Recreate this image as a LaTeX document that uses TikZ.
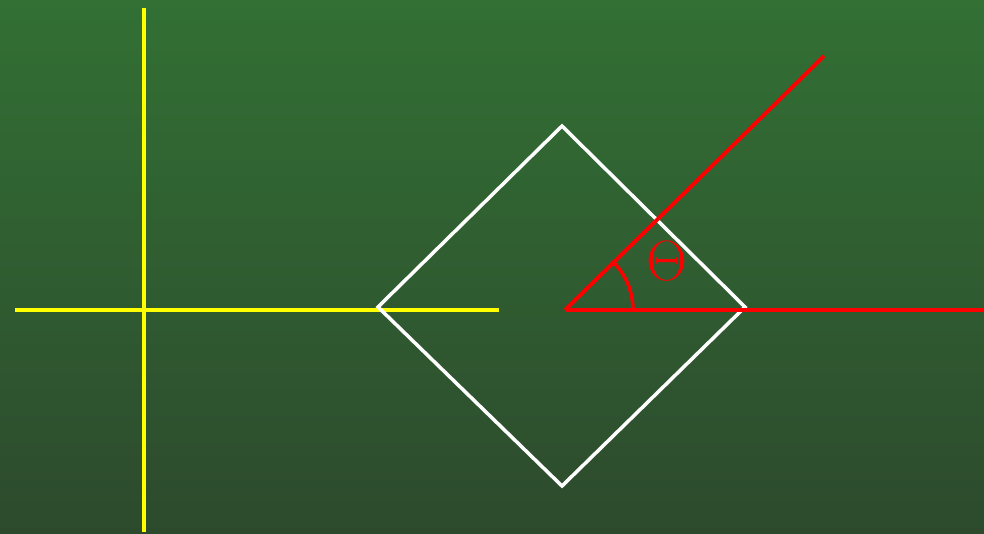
\documentclass[tikz,border=0pt]{standalone}
\usepackage{graphicx}
\usetikzlibrary{calc}
\definecolor{boardtop}{RGB}{50,112,52}
\definecolor{boardbot}{RGB}{45,74,45}
\definecolor{chalkyellow}{RGB}{255,255,0}
\definecolor{chalkred}{RGB}{255,0,0}
\tikzset{
  axis/.style={draw=chalkyellow,line width=2.2pt},
  square/.style={draw=white,line width=2pt,line join=miter},
  ray/.style={draw=chalkred,line width=2.2pt},
  angmark/.style={draw=chalkred,line width=2pt},
}
\begin{document}
\begin{tikzpicture}[x=0.02cm,y=-0.02cm]
  % board
  \shade[top color=boardtop,bottom color=boardbot] (0,0) rectangle (984,534);
  \useasboundingbox (0,0) rectangle (984,534);
  % axes
  \coordinate (ytop) at (144,8);
  \coordinate (ybot) at (144,532);
  \coordinate (xl) at (15,310);
  \coordinate (xr) at (499,310);
  \draw[axis] (ytop) -- (ybot);
  \draw[axis] (xl) -- (xr);
  % rotated square
  \coordinate (w) at (378,307);
  \coordinate (n) at (562,126);
  \coordinate (e) at (745,307);
  \coordinate (s) at (562,486);
  \draw[square] (w) -- (n) -- (e) -- (s) -- cycle;
  % angle
  \coordinate (o) at (565,310);
  \coordinate (hend) at (984,310);
  \coordinate (dend) at (824,56);
  \draw[ray] (o) -- (hend);
  \draw[ray] (o) -- (dend);
  \draw[angmark] ($(o)+(68,0)$) arc[start angle=0,end angle=-44.5,radius=68];
  \node[text=chalkred,font=\Huge] (theta) at (667,261) {\scalebox{1.3}{$\Theta$}};
\end{tikzpicture}
\end{document}
